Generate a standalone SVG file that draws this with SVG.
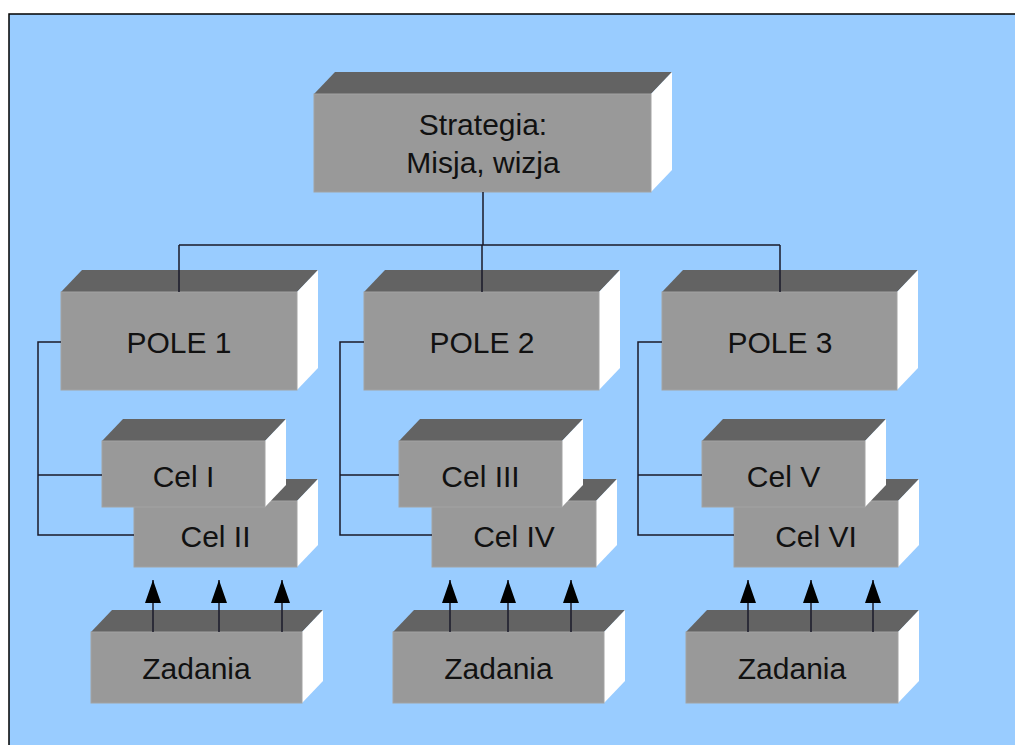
<svg xmlns="http://www.w3.org/2000/svg" width="1015" height="745" viewBox="0 0 1015 745">
<defs>
<style>
.front{fill:#999999;stroke:#a3a3a3;stroke-width:1}
.top{fill:#636363}
.side{fill:#ffffff}
.lbl{font-family:"Liberation Sans",Arial,sans-serif;font-size:30px;fill:#111111;text-anchor:middle}
.con{fill:none;stroke:#1a1a2a;stroke-width:1.5}
</style>
<marker id="arr" viewBox="0 0 23 16" refX="23" refY="8" markerWidth="23" markerHeight="16" markerUnits="userSpaceOnUse" orient="auto">
<path d="M0,0 L23,8 L0,16 z" fill="#000000"/>
</marker>
</defs>
<rect x="0" y="0" width="1015" height="745" fill="#ffffff"/>
<rect x="9" y="14" width="1012" height="740" fill="#99ccff" stroke="#000000" stroke-width="1.5"/>

<g id="strategia">
<polygon class="top" points="314,94 335,72 672,72 651,94"/>
<polygon class="side" points="651,94 672,72 672,170 651,192"/>
<rect class="front" x="314" y="94" width="337" height="98"/>
<text class="lbl" x="483" y="135">Strategia:</text>
<text class="lbl" x="483" y="173">Misja, wizja</text>
</g>

<g id="pole1">
<polygon class="top" points="61,292 82,270 318,270 297,292"/>
<polygon class="side" points="297,292 318,270 318,368 297,390"/>
<rect class="front" x="61" y="292" width="236" height="98"/>
<text class="lbl" x="179" y="353">POLE 1</text>
</g>
<g id="pole2">
<polygon class="top" points="364,292 385,270 620,270 599,292"/>
<polygon class="side" points="599,292 620,270 620,368 599,390"/>
<rect class="front" x="364" y="292" width="235" height="98"/>
<text class="lbl" x="482" y="353">POLE 2</text>
</g>
<g id="pole3">
<polygon class="top" points="662,292 683,270 918,270 897,292"/>
<polygon class="side" points="897,292 918,270 918,368 897,390"/>
<rect class="front" x="662" y="292" width="235" height="98"/>
<text class="lbl" x="780" y="353">POLE 3</text>
</g>

<g id="cel2">
<polygon class="top" points="134,501 155,479 318,479 297,501"/>
<polygon class="side" points="297,501 318,479 318,545 297,567"/>
<rect class="front" x="134" y="501" width="163" height="66"/>
<text class="lbl" x="215.5" y="547">Cel II</text>
</g>
<g id="cel1">
<polygon class="top" points="102,441 123,419 286,419 265,441"/>
<polygon class="side" points="265,441 286,419 286,485 265,507"/>
<rect class="front" x="102" y="441" width="163" height="66"/>
<text class="lbl" x="183.5" y="487">Cel I</text>
</g>

<g id="cel4">
<polygon class="top" points="432,501 453,479 617,479 596,501"/>
<polygon class="side" points="596,501 617,479 617,545 596,567"/>
<rect class="front" x="432" y="501" width="164" height="66"/>
<text class="lbl" x="514" y="547">Cel IV</text>
</g>
<g id="cel3">
<polygon class="top" points="399,441 420,419 583,419 562,441"/>
<polygon class="side" points="562,441 583,419 583,485 562,507"/>
<rect class="front" x="399" y="441" width="163" height="66"/>
<text class="lbl" x="480.5" y="487">Cel III</text>
</g>

<g id="cel6">
<polygon class="top" points="734,501 755,479 919,479 898,501"/>
<polygon class="side" points="898,501 919,479 919,545 898,567"/>
<rect class="front" x="734" y="501" width="164" height="66"/>
<text class="lbl" x="816" y="547">Cel VI</text>
</g>
<g id="cel5">
<polygon class="top" points="702,441 723,419 886,419 865,441"/>
<polygon class="side" points="865,441 886,419 886,485 865,507"/>
<rect class="front" x="702" y="441" width="163" height="66"/>
<text class="lbl" x="783.5" y="487">Cel V</text>
</g>

<g id="zadania1">
<polygon class="top" points="91,632 112,610 323,610 302,632"/>
<polygon class="side" points="302,632 323,610 323,681 302,703"/>
<rect class="front" x="91" y="632" width="211" height="71"/>
<text class="lbl" x="196.5" y="679">Zadania</text>
</g>
<g id="zadania2">
<polygon class="top" points="393,632 414,610 625,610 604,632"/>
<polygon class="side" points="604,632 625,610 625,681 604,703"/>
<rect class="front" x="393" y="632" width="211" height="71"/>
<text class="lbl" x="498.5" y="679">Zadania</text>
</g>
<g id="zadania3">
<polygon class="top" points="686,632 707,610 919,610 898,632"/>
<polygon class="side" points="898,632 919,610 919,681 898,703"/>
<rect class="front" x="686" y="632" width="212" height="71"/>
<text class="lbl" x="792" y="679">Zadania</text>
</g>

<g id="connectors">
<path class="con" d="M483,192 V245 M179,245 H780 M179,245 V292 M482,245 V292 M780,245 V292"/>
<path class="con" d="M61,342 H38 V535 H134 M38,475 H102"/>
<path class="con" d="M364,342 H340 V535 H432 M340,475 H399"/>
<path class="con" d="M662,342 H638 V535 H734 M638,475 H702"/>
<g class="con" marker-end="url(#arr)">
<line x1="153" y1="632" x2="153" y2="580"/>
<line x1="219" y1="632" x2="219" y2="580"/>
<line x1="282" y1="632" x2="282" y2="580"/>
<line x1="450" y1="632" x2="450" y2="580"/>
<line x1="508" y1="632" x2="508" y2="580"/>
<line x1="571" y1="632" x2="571" y2="580"/>
<line x1="748" y1="632" x2="748" y2="580"/>
<line x1="811" y1="632" x2="811" y2="580"/>
<line x1="873" y1="632" x2="873" y2="580"/>
</g>
</g>
</svg>
